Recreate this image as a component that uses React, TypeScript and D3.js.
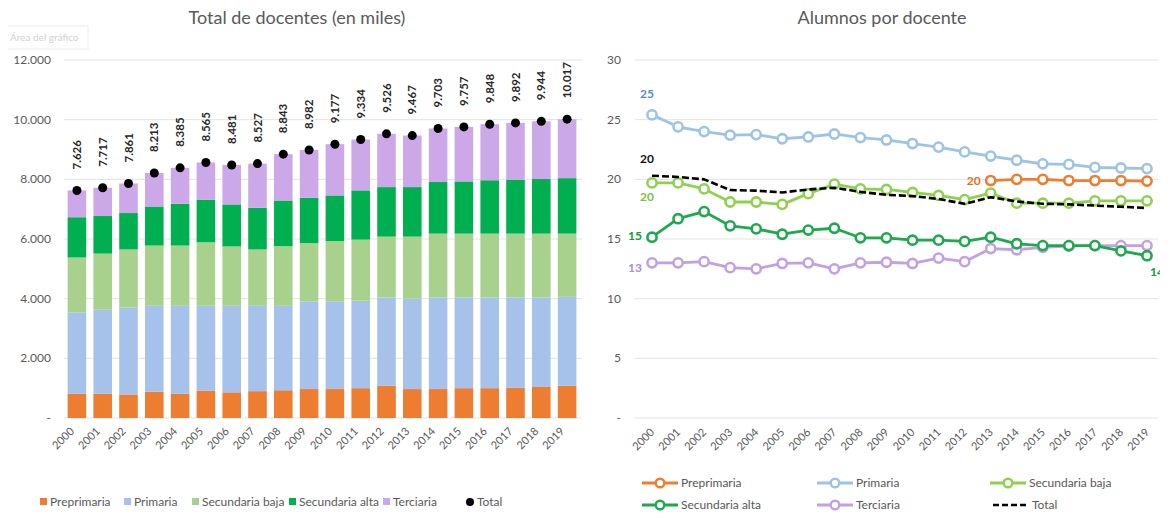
import React from "react";
import * as d3 from "d3";

// ---- data ----
const years = ["2000","2001","2002","2003","2004","2005","2006","2007","2008","2009","2010","2011","2012","2013","2014","2015","2016","2017","2018","2019"];

// Docentes por nivel (miles)
const preprimaria = [810,810,790,880,810,920,860,900,930,970,970,1000,1080,970,970,1000,1000,1010,1040,1080];
const primaria = [2720,2820,2910,2880,2950,2840,2900,2860,2830,2940,2940,2930,2960,3030,3070,3040,3040,3030,3000,2980];
const secundariaBaja = [1850,1880,1950,2020,2020,2130,1990,1890,2000,1950,2020,2050,2040,2080,2140,2140,2140,2140,2140,2120];
const secundariaAlta = [1350,1260,1220,1310,1400,1430,1410,1400,1530,1520,1530,1650,1660,1660,1730,1750,1790,1810,1830,1860];
const totalDocentes = [7626,7717,7861,8213,8385,8565,8481,8527,8843,8982,9177,9334,9526,9467,9703,9757,9848,9892,9944,10017];
const docentesTicks = [0,2000,4000,6000,8000,10000,12000];

// Alumnos por docente
const ratioPreprimaria: (number | null)[] = [null,null,null,null,null,null,null,null,null,null,null,null,null,19.9,20.0,20.0,19.9,19.9,19.9,19.85];
const ratioPrimaria = [25.4,24.4,24.0,23.7,23.75,23.4,23.55,23.8,23.5,23.3,23.0,22.7,22.3,21.95,21.6,21.3,21.25,21.0,20.95,20.9];
const ratioSecBaja = [19.7,19.7,19.2,18.1,18.1,17.9,18.8,19.6,19.2,19.15,18.9,18.65,18.3,18.85,18.0,18.0,18.0,18.2,18.2,18.2];
const ratioSecAlta = [15.15,16.7,17.3,16.1,15.85,15.4,15.75,15.9,15.1,15.1,14.9,14.9,14.8,15.15,14.6,14.45,14.45,14.45,14.0,13.6];
const ratioTerciaria = [13.0,13.0,13.1,12.6,12.5,12.95,13.0,12.5,13.0,13.05,12.95,13.4,13.1,14.2,14.1,14.3,14.4,14.45,14.45,14.45];
const ratioTotal = [20.3,20.2,20.0,19.1,19.05,18.9,19.15,19.3,18.95,18.7,18.6,18.35,17.95,18.5,18.15,17.95,17.9,17.8,17.7,17.6];
const ratioTicks = [0,5,10,15,20,25,30];

const FONT = "Lato, 'Open Sans', sans-serif";
const GRID = "#e3e3e3";
const AXIS_TEXT = "#595959";

const fmtMiles = (v: number) => (v === 0 ? "-" : d3.format(",")(v).replace(/,/g, "."));
const fmtRatio = (v: number) => (v === 0 ? "-" : String(v));
const fmtInt = d3.format(".0f");

const barSeries = [
  { key: "Preprimaria", values: preprimaria, color: "#ED7D31" },
  { key: "Primaria", values: primaria, color: "#A6C2EA" },
  { key: "Secundaria baja", values: secundariaBaja, color: "#A9D18E" },
  { key: "Secundaria alta", values: secundariaAlta, color: "#00B050" },
  {
    key: "Terciaria",
    values: totalDocentes.map((t, i) => t - preprimaria[i] - primaria[i] - secundariaBaja[i] - secundariaAlta[i]),
    color: "#CCA8E9",
  },
];

function DocentesChart() {
  const x = d3.scaleBand<string>().domain(years).range([64, 580]).paddingInner(0.28).paddingOuter(0.14);
  const y = d3.scaleLinear().domain([0, 12000]).range([418, 60]);

  const table = years.map((yr, i) => {
    const row: Record<string, number | string> = { year: yr };
    barSeries.forEach((s) => (row[s.key] = s.values[i]));
    return row;
  });
  const stacked = d3.stack<Record<string, number | string>>().keys(barSeries.map((s) => s.key))(table as any);

  const legend = [
    { label: "Preprimaria", color: "#ED7D31", x: 40 },
    { label: "Primaria", color: "#A6C2EA", x: 124 },
    { label: "Secundaria baja", color: "#A9D18E", x: 192 },
    { label: "Secundaria alta", color: "#00B050", x: 289 },
    { label: "Terciaria", color: "#CCA8E9", x: 383 },
  ];

  return (
    <g>
      <text x={297} y={24} textAnchor="middle" fontSize={18} fill={AXIS_TEXT} fontFamily={FONT}>
        Total de docentes (en miles)
      </text>
      {/* selection hint box */}
      <rect x={6} y={26} width={82} height={23} fill="none" stroke="#ececec" />
      <text x={10} y={41} fontSize={10} fill="#d2d2d2" fontFamily={FONT}>Área del gráfico</text>

      {docentesTicks.map((t) => (
        <g key={t}>
          <line x1={64} x2={582} y1={y(t)} y2={y(t)} stroke={GRID} strokeWidth={1} />
          <text x={51} y={y(t) + 4} textAnchor="end" fontSize={12} fill={AXIS_TEXT} fontFamily={FONT}>
            {fmtMiles(t)}
          </text>
        </g>
      ))}

      {stacked.map((layer, li) => (
        <g key={layer.key} fill={barSeries[li].color}>
          {layer.map((d, i) => (
            <rect key={i} x={x(years[i])} width={x.bandwidth()} y={y(d[1])} height={y(d[0]) - y(d[1])} />
          ))}
        </g>
      ))}

      {years.map((yr, i) => {
        const cx = (x(yr) as number) + x.bandwidth() / 2;
        const cy = y(totalDocentes[i]);
        return (
          <g key={yr}>
            <circle cx={cx} cy={cy} r={4.5} fill="#000" />
            {/* value label reads bottom-to-top above the marker */}
            <text
              transform={`matrix(0,-1,1,0,${cx + 4},${cy - 21})`}
              fontSize={11.5}
              fontWeight="bold"
              fill="#262626"
              fontFamily={FONT}
            >
              {fmtMiles(totalDocentes[i])}
            </text>
            <text
              transform={`translate(${cx - 2},${432}) rotate(-45)`}
              textAnchor="end"
              fontSize={11}
              fill={AXIS_TEXT}
              fontFamily={FONT}
            >
              {yr}
            </text>
          </g>
        );
      })}

      {legend.map((l) => (
        <g key={l.label}>
          <rect x={l.x} y={498} width={7} height={7} fill={l.color} />
          <text x={l.x + 10} y={506} fontSize={12} fill={AXIS_TEXT} fontFamily={FONT}>{l.label}</text>
        </g>
      ))}
      <circle cx={470} cy={502} r={4} fill="#000" />
      <text x={477} y={506} fontSize={12} fill={AXIS_TEXT} fontFamily={FONT}>Total</text>
    </g>
  );
}

const lineSeries = [
  { key: "Preprimaria", values: ratioPreprimaria, color: "#ED7D31", labelColor: "#E07020", dash: null as string | null, marker: true },
  { key: "Primaria", values: ratioPrimaria as (number | null)[], color: "#9DC3E6", labelColor: "#4F8FD0", dash: null, marker: true },
  { key: "Secundaria baja", values: ratioSecBaja as (number | null)[], color: "#8FD14F", labelColor: "#7CC13A", dash: null, marker: true },
  { key: "Secundaria alta", values: ratioSecAlta as (number | null)[], color: "#1FA84F", labelColor: "#109A40", dash: null, marker: true },
  { key: "Terciaria", values: ratioTerciaria as (number | null)[], color: "#C3A0E3", labelColor: "#B08CD6", dash: null, marker: true },
  { key: "Total", values: ratioTotal as (number | null)[], color: "#000000", labelColor: "#111111", dash: "7,3", marker: false },
];

function RatioChart() {
  const x = d3.scalePoint<string>().domain(years).range([652, 1147]);
  const y = d3.scaleLinear().domain([0, 30]).range([418, 60]);
  const line = d3
    .line<number | null>()
    .defined((d) => d != null)
    .x((_, i) => x(years[i]) as number)
    .y((d) => y(d as number));

  // order of drawing: back to front
  const drawOrder = ["Terciaria", "Secundaria alta", "Primaria", "Secundaria baja", "Total", "Preprimaria"];

  const startLabel = (key: string) => {
    const s = lineSeries.find((d) => d.key === key)!;
    const i = s.values.findIndex((v) => v != null);
    return { s, i, v: s.values[i] as number };
  };

  const startLabels = [
    { key: "Primaria", dx: -12, dy: -17, anchor: "start" },
    { key: "Total", dx: -12, dy: -13, anchor: "start" },
    { key: "Secundaria baja", dx: -12, dy: 18, anchor: "start" },
    { key: "Secundaria alta", dx: -10, dy: 3, anchor: "end" },
    { key: "Terciaria", dx: -10, dy: 9, anchor: "end" },
    { key: "Preprimaria", dx: -10, dy: 4, anchor: "end" },
  ];
  const endLabels = [
    { key: "Primaria", dy: -10 },
    { key: "Preprimaria", dy: 5 },
    { key: "Secundaria baja", dy: 2 },
    { key: "Total", dy: 8 },
    { key: "Terciaria", dy: 4 },
  ];

  const legendItems = [
    { key: "Preprimaria", x: 642, y: 487 },
    { key: "Primaria", x: 817, y: 487 },
    { key: "Secundaria baja", x: 990, y: 487 },
    { key: "Secundaria alta", x: 642, y: 509 },
    { key: "Terciaria", x: 817, y: 509 },
    { key: "Total", x: 993, y: 509 },
  ];

  return (
    <g>
      <text x={882} y={24} textAnchor="middle" fontSize={18} fill={AXIS_TEXT} fontFamily={FONT}>
        Alumnos por docente
      </text>
      {ratioTicks.map((t) => (
        <g key={t}>
          <line x1={635} x2={1158} y1={y(t)} y2={y(t)} stroke={GRID} strokeWidth={1} />
          <text x={621} y={y(t) + 4} textAnchor="end" fontSize={12} fill={AXIS_TEXT} fontFamily={FONT}>
            {fmtRatio(t)}
          </text>
        </g>
      ))}

      {drawOrder.map((k) => {
        const s = lineSeries.find((d) => d.key === k)!;
        return (
          <g key={k}>
            <path
              d={line(s.values) || ""}
              fill="none"
              stroke={s.color}
              strokeWidth={s.dash ? 2.6 : 2.8}
              strokeDasharray={s.dash || undefined}
              strokeLinejoin="round"
            />
            {s.marker &&
              s.values.map((v, i) =>
                v == null ? null : (
                  <circle key={i} cx={x(years[i])} cy={y(v)} r={4.6} fill="#fff" stroke={s.color} strokeWidth={2.6} />
                )
              )}
          </g>
        );
      })}

      {startLabels.map((l) => {
        const { s, i, v } = startLabel(l.key);
        return (
          <text
            key={l.key}
            x={(x(years[i]) as number) + l.dx}
            y={y(v) + l.dy}
            textAnchor={l.anchor}
            fontSize={12}
            fontWeight="bold"
            fill={s.labelColor}
            fontFamily={FONT}
          >
            {fmtInt(v)}
          </text>
        );
      })}
      {endLabels.map((l) => {
        const s = lineSeries.find((d) => d.key === l.key)!;
        const v = s.values[s.values.length - 1] as number;
        return (
          <text key={l.key} x={1160} y={y(v) + l.dy} fontSize={12} fontWeight="bold" fill={s.labelColor} fontFamily={FONT}>
            {fmtInt(v)}
          </text>
        );
      })}
      {(() => {
        const s = lineSeries.find((d) => d.key === "Secundaria alta")!;
        const v = s.values[s.values.length - 1] as number;
        return (
          <text x={1150} y={y(v) + 20} fontSize={12} fontWeight="bold" fill={s.labelColor} fontFamily={FONT}>
            {fmtInt(v)}
          </text>
        );
      })()}

      {years.map((yr) => (
        <text
          key={yr}
          transform={`translate(${(x(yr) as number) + 3},${433}) rotate(-45)`}
          textAnchor="end"
          fontSize={11}
          fill={AXIS_TEXT}
          fontFamily={FONT}
        >
          {yr}
        </text>
      ))}

      {legendItems.map((l) => {
        const s = lineSeries.find((d) => d.key === l.key)!;
        return (
          <g key={l.key}>
            <line
              x1={l.x}
              x2={l.x + 36}
              y1={l.y - 4}
              y2={l.y - 4}
              stroke={s.color}
              strokeWidth={s.dash ? 2.4 : 2.8}
              strokeDasharray={s.dash ? "6,3" : undefined}
            />
            {s.marker && <circle cx={l.x + 18} cy={l.y - 4} r={4.3} fill="#fff" stroke={s.color} strokeWidth={2.4} />}
            <text x={l.x + 39} y={l.y} fontSize={12} fill={AXIS_TEXT} fontFamily={FONT}>{l.key}</text>
          </g>
        );
      })}
    </g>
  );
}

export default function App() {
  return (
    <svg width={1168} height={522} style={{ display: "block", margin: "-8px", background: "#fff" }}>
      <rect width={1168} height={522} fill="#fff" />
      <DocentesChart />
      <RatioChart />
    </svg>
  );
}
